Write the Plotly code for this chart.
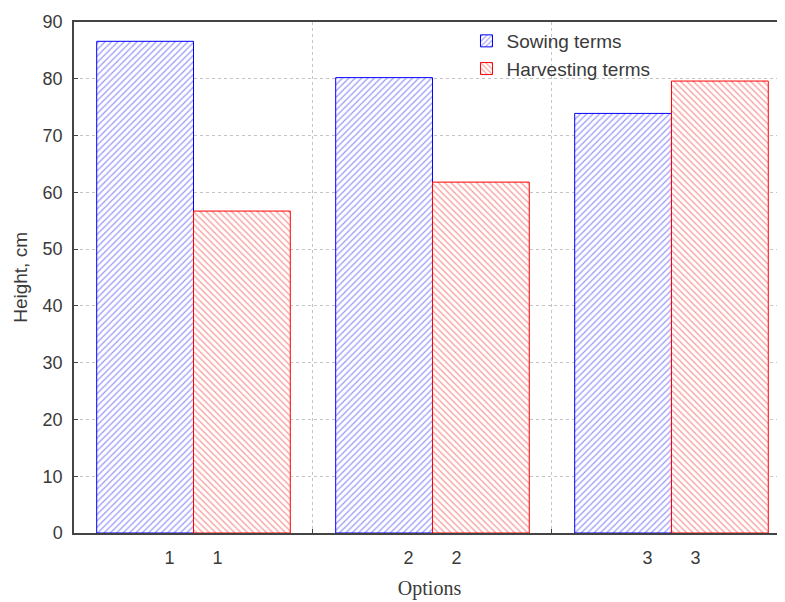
import plotly.graph_objects as go

categories = ["1", "2", "3"]
sowing = [86.6, 80.2, 73.9]
harvesting = [56.7, 61.8, 79.6]
series_names = ["Sowing terms", "Harvesting terms"]
y_ticks = [0, 10, 20, 30, 40, 50, 60, 70, 80, 90]
y_title = "Height, cm"

xpos = list(range(len(categories)))
# each bar labelled with its category, slightly off the group centre
tick_pos = []
tick_txt = []
for i, c in enumerate(categories):
    tick_pos += [i - 0.1, i + 0.1]
    tick_txt += [c, c]
dividers = [i + 0.5 for i in xpos[:-1]]

fig = go.Figure()
fig.add_trace(go.Bar(
    x=xpos, y=sowing, name=series_names[0],
    marker=dict(color="white",
                line=dict(color="#0000ff", width=1),
                pattern=dict(shape="/", fgcolor="#4040f0", bgcolor="white",
                             size=4.5, solidity=0.3)),
))
fig.add_trace(go.Bar(
    x=xpos, y=harvesting, name=series_names[1],
    marker=dict(color="white",
                line=dict(color="#ff0000", width=1),
                pattern=dict(shape="\\", fgcolor="#f04040", bgcolor="white",
                             size=4.5, solidity=0.3)),
))

txt_col = "#3a3a3a"
axis_font = dict(family="Liberation Sans, Arial, sans-serif", size=18, color=txt_col)

# page body has an 8px margin, so the figure is sized to fill the rest of the window
fig.update_layout(
    width=777, height=594,
    margin=dict(l=66, r=0, t=14, b=69),
    paper_bgcolor="white", plot_bgcolor="white",
    barmode="group", bargap=0.19, bargroupgap=0,
    font=axis_font,
    legend=dict(x=0.552, y=1.0, xanchor="left", yanchor="top",
                bgcolor="rgba(0,0,0,0)", font=dict(size=19, color=txt_col),
                tracegroupgap=0, itemwidth=30),
    xaxis=dict(
        range=[-0.5, 2.475],
        tickmode="array", tickvals=tick_pos, ticktext=tick_txt,
        ticks="", showgrid=False, zeroline=False,
        showline=True, linecolor="#444444", linewidth=1.5, mirror=True,
        ticklabelstandoff=8,
        minor=dict(tickmode="array", tickvals=dividers, showgrid=True,
                   gridcolor="#c4c4c4", griddash="dot", gridwidth=1,
                   ticks="inside", ticklen=4, tickcolor="#444444"),
        title=dict(text="Options", standoff=14,
                   font=dict(family="Liberation Serif, Times New Roman, serif",
                             size=20, color=txt_col)),
    ),
    yaxis=dict(
        range=[0, 90], tickmode="array", tickvals=y_ticks,
        ticks="inside", ticklen=4, tickcolor="#444444",
        showgrid=True, gridcolor="#c4c4c4", griddash="dot", gridwidth=1,
        zeroline=False, showline=True, linecolor="#444444", linewidth=1.5,
        ticklabelstandoff=6,
    ),
    annotations=[dict(text=y_title, textangle=-90, xref="paper", yref="paper",
                      x=-0.0755, y=0.5, xanchor="center", yanchor="middle",
                      showarrow=False, font=dict(size=19, color=txt_col))],
)

fig.write_html("out.html")
